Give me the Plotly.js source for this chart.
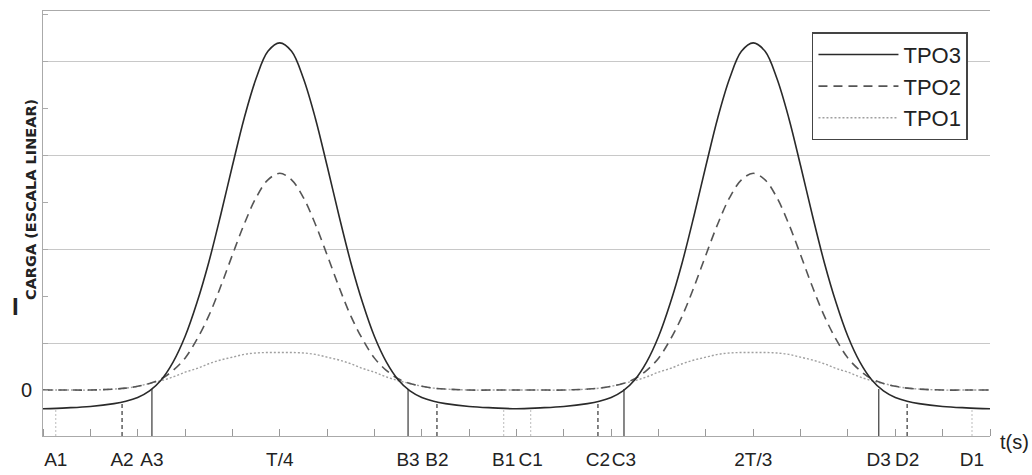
<!DOCTYPE html>
<html><head><meta charset="utf-8">
<script src="https://cdn.plot.ly/plotly-3.0.1.min.js"></script>
<style>html,body{margin:0;padding:0;background:#fff}#chart{width:1032px;height:475px}</style>
</head><body><div id="chart"></div>
<script>
// time samples (arbitrary units, T/4 at 5 and 2T/3 at 15)
const t = [0, 0.5, 1, 1.5, 1.75, 2, 2.25, 2.5, 2.75, 3, 3.25, 3.5, 3.75, 4, 4.25, 4.5, 4.75, 5,
  5.25, 5.5, 5.75, 6, 6.25, 6.5, 6.75, 7, 7.25, 7.5, 7.75, 8, 8.25, 8.5, 9, 9.5, 10,
  10.5, 11, 11.5, 11.75, 12, 12.25, 12.5, 12.75, 13, 13.25, 13.5, 13.75, 14, 14.25, 14.5, 14.75, 15,
  15.25, 15.5, 15.75, 16, 16.25, 16.5, 16.75, 17, 17.25, 17.5, 17.75, 18, 18.25, 18.5, 19, 19.5, 20];
const tpo3 = [-0.20, -0.19, -0.175, -0.145, -0.12, -0.08, -0.01, 0.11, 0.30, 0.57, 0.93, 1.36, 1.86, 2.39, 2.90, 3.32, 3.61, 3.70,
  3.61, 3.32, 2.90, 2.39, 1.86, 1.36, 0.93, 0.57, 0.30, 0.11, -0.01, -0.08, -0.12, -0.145, -0.175, -0.19, -0.20,
  -0.19, -0.175, -0.145, -0.12, -0.08, -0.01, 0.11, 0.30, 0.57, 0.93, 1.36, 1.86, 2.39, 2.90, 3.32, 3.61, 3.70,
  3.61, 3.32, 2.90, 2.39, 1.86, 1.36, 0.93, 0.57, 0.30, 0.11, -0.01, -0.08, -0.12, -0.145, -0.175, -0.19, -0.20];
const tpo2 = [0.00, 0.00, 0.00, 0.01, 0.02, 0.04, 0.07, 0.12, 0.21, 0.34, 0.54, 0.79, 1.10, 1.44, 1.77, 2.05, 2.24, 2.31,
  2.24, 2.05, 1.77, 1.44, 1.10, 0.79, 0.54, 0.34, 0.21, 0.12, 0.07, 0.04, 0.02, 0.01, 0.00, 0.00, 0.00,
  0.00, 0.00, 0.01, 0.02, 0.04, 0.07, 0.12, 0.21, 0.34, 0.54, 0.79, 1.10, 1.44, 1.77, 2.05, 2.24, 2.31,
  2.24, 2.05, 1.77, 1.44, 1.10, 0.79, 0.54, 0.34, 0.21, 0.12, 0.07, 0.04, 0.02, 0.01, 0.00, 0.00, 0.00];
const tpo1 = [0.00, 0.00, 0.00, 0.01, 0.02, 0.04, 0.07, 0.10, 0.14, 0.19, 0.23, 0.28, 0.32, 0.35, 0.38, 0.395, 0.40, 0.40,
  0.40, 0.395, 0.38, 0.35, 0.32, 0.28, 0.23, 0.19, 0.14, 0.10, 0.07, 0.04, 0.02, 0.01, 0.00, 0.00, 0.00,
  0.00, 0.00, 0.01, 0.02, 0.04, 0.07, 0.10, 0.14, 0.19, 0.23, 0.28, 0.32, 0.35, 0.38, 0.395, 0.40, 0.40,
  0.40, 0.395, 0.38, 0.35, 0.32, 0.28, 0.23, 0.19, 0.14, 0.10, 0.07, 0.04, 0.02, 0.01, 0.00, 0.00, 0.00];
const seriesNames = ['TPO3', 'TPO2', 'TPO1'];

// instants marked on the time axis
const solidDropLabels = ['A3', 'B3', 'C3', 'D3'];
const solidDropT = [2.3, 7.71, 12.27, 17.65];
const solidDropTop = [0.01, 0.01, 0.01, 0.01];
const dashDropLabels = ['A2', 'B2', 'C2', 'D2'];
const dashDropT = [1.67, 8.32, 11.72, 18.25];
const dashDropTop = [-0.13, -0.13, -0.13, -0.13];
const dotDropLabels = ['A1', 'B1', 'C1', 'D1'];
const dotDropT = [0.27, 9.73, 10.3, 19.62];
const dotDropTop = [-0.2, -0.2, -0.2, -0.2];
const peakLabels = ['T/4', '2T/3'];
const peakT = [5, 15];
const yTickVals = [0];
const yTickText = ['0'];

const yMin = -0.49, yMax = 4.04;
const FONT = 'Liberation Sans, Arial, sans-serif';

function dropTrace(xs, tops, line, yaxis) {
  const x = [], y = [];
  xs.forEach((v, i) => { x.push(v, v, null); y.push(yMin, tops[i], null); });
  return {x, y, type: 'scatter', mode: 'lines', line, showlegend: false, hoverinfo: 'skip', yaxis: yaxis || 'y'};
}

const data = [
  dropTrace(dashDropT, dashDropTop, {color: '#444444', width: 1.3, dash: '4px,3px'}),
  dropTrace(solidDropT, solidDropTop, {color: '#555555', width: 1.4}),
  {x: t, y: tpo1, name: seriesNames[2], type: 'scatter', mode: 'lines', legendrank: 3,
   line: {color: '#a0a0a0', width: 1.4, dash: '2px,2px', shape: 'spline', smoothing: 1}},
  {x: t, y: tpo2, name: seriesNames[1], type: 'scatter', mode: 'lines', legendrank: 2,
   line: {color: '#555555', width: 1.6, dash: '9px,6px', shape: 'spline', smoothing: 1}},
  {x: t, y: tpo3, name: seriesNames[0], type: 'scatter', mode: 'lines', legendrank: 1,
   line: {color: '#2a2a2a', width: 1.6, shape: 'spline', smoothing: 1}},
  dropTrace(dotDropT, dotDropTop, {color: '#bbbbbb', width: 1, dash: '2px,2px'}, 'y2')
];

const xTickVals = dotDropT.concat(dashDropT, solidDropT, peakT);
const xTickText = dotDropLabels.concat(dashDropLabels, solidDropLabels, peakLabels);

const layout = {
  width: 1032, height: 475,
  margin: {l: 43, r: 42, t: 11, b: 39},
  paper_bgcolor: '#ffffff', plot_bgcolor: '#ffffff',
  font: {family: FONT, color: '#222222'},
  showlegend: true,
  legend: {x: 0.812, y: 0.95, xanchor: 'left', yanchor: 'top',
    bgcolor: '#ffffff', bordercolor: '#444444', borderwidth: 1.5,
    font: {family: FONT, size: 22, color: '#222222'}, itemwidth: 80},
  xaxis: {range: [0, 20], tickmode: 'array', tickvals: xTickVals, ticktext: xTickText,
    tickangle: 0, ticks: '', showgrid: false, zeroline: false, showline: true, linecolor: '#aaaaaa', linewidth: 1,
    mirror: true, ticklabelstandoff: 6,
    tickfont: {family: FONT, size: 19, color: '#222222'},
    minor: {tickmode: 'linear', tick0: 0, dtick: 1, ticks: 'inside', ticklen: 7, tickcolor: '#999999', showgrid: false}},
  yaxis: {range: [yMin, yMax], tickmode: 'array', tickvals: yTickVals, ticktext: yTickText,
    ticks: '', showgrid: false, zeroline: false, showline: true, linecolor: '#aaaaaa', linewidth: 1,
    ticklabelstandoff: 6,
    tickfont: {family: FONT, size: 20, color: '#222222'},
    minor: {tickmode: 'linear', tick0: 0, dtick: 0.5, ticks: 'inside', ticklen: 5, tickcolor: '#aaaaaa', showgrid: false}},
  yaxis2: {overlaying: 'y', range: [yMin, yMax], tickmode: 'linear', tick0: 0.5, dtick: 1,
    showgrid: true, gridcolor: '#c8c8c8', gridwidth: 1, showticklabels: false, ticks: '',
    zeroline: false, showline: false},
  annotations: [
    {text: '<b>I</b>', xref: 'paper', yref: 'paper', x: 0, y: 0, xshift: -28, yshift: 130,
     xanchor: 'center', yanchor: 'middle', showarrow: false,
     font: {family: FONT, size: 24, color: '#222222'}},
    {text: '<b>CARGA (ESCALA LINEAR)</b>', xref: 'paper', yref: 'paper', x: 0, y: 0, xshift: -12, yshift: 236,
     xanchor: 'center', yanchor: 'middle', showarrow: false, textangle: -90,
     font: {family: 'DejaVu Sans, sans-serif', size: 14.5, color: '#222222'}},
    {text: 't(s)', xref: 'paper', yref: 'paper', x: 1, y: 0, xshift: 24, yshift: -6,
     xanchor: 'center', yanchor: 'middle', showarrow: false,
     font: {family: FONT, size: 20, color: '#222222'}}
  ]
};

Plotly.newPlot('chart', data, layout, {displayModeBar: false, staticPlot: true});
</script>
</body></html>
